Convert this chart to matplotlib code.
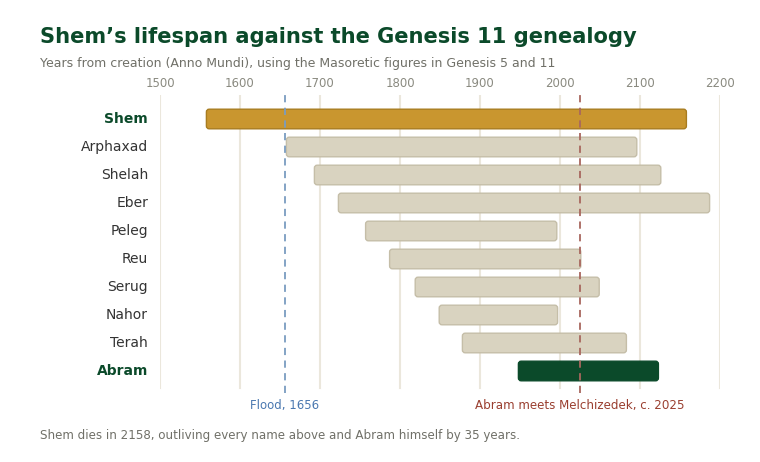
import matplotlib
matplotlib.use("Agg")
import matplotlib.pyplot as plt
from matplotlib.patches import FancyBboxPatch

plt.rcParams["font.family"] = ["DejaVu Sans"]

# years Anno Mundi (Masoretic text)
names = ["Shem", "Arphaxad", "Shelah", "Eber", "Peleg", "Reu", "Serug", "Nahor", "Terah", "Abram"]
born = [1558, 1658, 1693, 1723, 1757, 1787, 1819, 1849, 1878, 1948]
died = [2158, 2096, 2126, 2187, 1996, 2026, 2049, 1997, 2083, 2123]
flood_year = 1656
melchizedek_year = 2025
xticks = [1500, 1600, 1700, 1800, 1900, 2000, 2100, 2200]

GREEN = "#0b4a2a"
GOLD = "#c9962f"
GREY_BAR = "#d9d3c0"
BLUE = "#4a78b0"
RED = "#9a3f30"

W, H = 760, 462
fig = plt.figure(figsize=(W / 100, H / 100), dpi=100)
fig.patch.set_facecolor("white")

# axes: x 160..720 px, y 95..393 px
ax = fig.add_axes([160 / W, 1 - 393 / H, 560 / W, 298 / H])
ax.set_xlim(1500, 2200)
ax.set_ylim(9.786, -0.857)
for s in ax.spines.values():
    s.set_visible(False)
ax.set_yticks([])
ax.set_xticks(xticks)
ax.xaxis.tick_top()
ax.tick_params(axis="x", length=0, pad=3.5, labelsize=8.5, labelcolor="#8a8a80")

for x in xticks:
    ax.axvline(x, ymin=(9.786 - 9.607) / 10.643, ymax=1, color="#ebe7dc", lw=1.5, zorder=0)

x_per_px = 700 / 560
y_per_px = 1 / 28
for i, (n, b, d) in enumerate(zip(names, born, died)):
    if n == "Shem":
        fc, ec = GOLD, "#a87c20"
    elif n == "Abram":
        fc, ec = GREEN, GREEN
    else:
        fc, ec = GREY_BAR, "#c5bea8"
    h = 0.7
    box = FancyBboxPatch((b, i - h / 2), d - b, h,
                         boxstyle="round,pad=0,rounding_size=3.5",
                         mutation_aspect=y_per_px / x_per_px,
                         fc=fc, ec=ec, lw=1, zorder=2)
    ax.add_patch(box)
    if n in ("Shem", "Abram"):
        ax.text(1485, i, n, ha="right", va="center", fontsize=10,
                fontweight="bold", color=GREEN)
    else:
        ax.text(1485, i, n, ha="right", va="center", fontsize=10, color="#333333")

ax.axvline(flood_year, color="#7a9cc0", lw=1.3, ls=(0, (4, 3)), zorder=3)
ax.axvline(melchizedek_year, color="#a8675e", lw=1.3, ls=(0, (4, 3)), zorder=3)

fig.text(285 / W, 1 - 406 / H, f"Flood, {flood_year}", ha="center", va="center",
         fontsize=8.5, color=BLUE)
fig.text(580 / W, 1 - 406 / H, f"Abram meets Melchizedek, c. {melchizedek_year}",
         ha="center", va="center", fontsize=8.6, color=RED)

fig.text(40 / W, 1 - 37 / H, "Shem’s lifespan against the Genesis 11 genealogy",
         ha="left", va="center", fontsize=15.1, fontweight="bold", color=GREEN)
fig.text(40 / W, 1 - 63 / H,
         "Years from creation (Anno Mundi), using the Masoretic figures in Genesis 5 and 11",
         ha="left", va="center", fontsize=9, color="#707068")
fig.text(40 / W, 1 - 436 / H,
         "Shem dies in 2158, outliving every name above and Abram himself by 35 years.",
         ha="left", va="center", fontsize=8.6, color="#707068")

fig.savefig("out.png", dpi=100)
